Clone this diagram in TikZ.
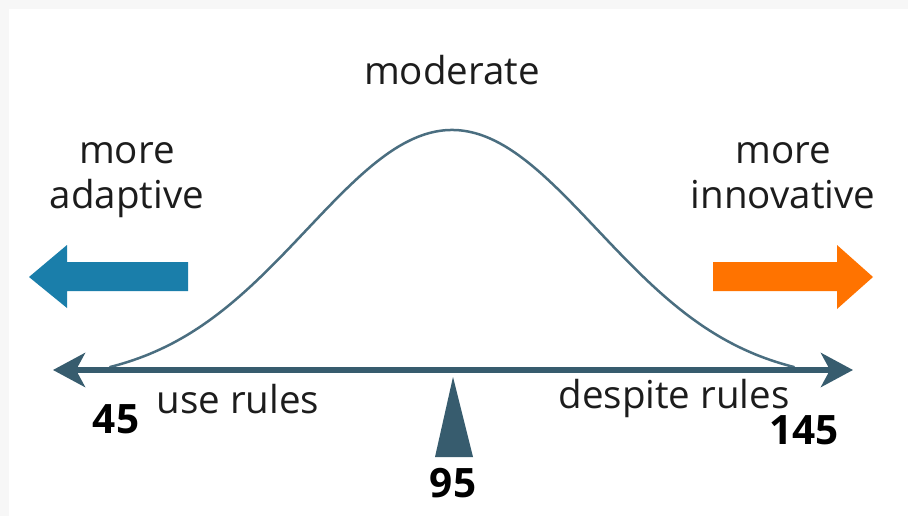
\documentclass[tikz,border=0pt]{standalone}
\usepackage{fontspec}
\setmainfont{Open Sans}
\usetikzlibrary{arrows.meta,positioning,calc}
\definecolor{AxisSlate}{RGB}{55,92,110}
\definecolor{CurveSlate}{RGB}{74,110,128}
\definecolor{AdaptBlue}{RGB}{26,126,170}
\definecolor{InnovOrange}{RGB}{255,115,0}
\definecolor{PageGrey}{RGB}{247,247,247}
\definecolor{InkGrey}{RGB}{28,28,28}

\begin{document}
\begin{tikzpicture}[
  x=1pt, y=-1pt,
  word/.style={font=\fontsize{38.5}{45}\selectfont, text=InkGrey, inner sep=0pt, align=center},
  num/.style={font=\fontsize{40.5}{45}\selectfont\bfseries, text=black, inner sep=0pt},
  axis/.style={{Stealth[length=32pt,width=34pt,inset=9pt]}-{Stealth[length=32pt,width=34pt,inset=9pt]},
    line width=6pt, draw=AxisSlate},
  bell/.style={line width=2.5pt, draw=CurveSlate, line cap=round},
  bigarrow/.style={draw=none}
]
\fill[PageGrey] (0,0) rectangle (908,516);
\fill[white] (9,9) rectangle (908,516);
\useasboundingbox (0,0) rectangle (908,516);

\coordinate (axL) at (53,370);
\coordinate (axR) at (853,370);
\coordinate (mid) at (453,370);

\draw[bell] plot[domain=110:794, samples=140, smooth]
  (\x, {367 - 237*(exp(-((\x-452)/100)^2/4.205)-0.062)/0.938});
\draw[axis] (axL) -- (axR);
\fill[AxisSlate] ($(mid)+(0,7)$) -- ($(mid)+(20,87)$) -- ($(mid)+(-18,87)$) -- cycle;

\fill[bigarrow, AdaptBlue] (29,277) -- (67,245) -- (67,262) -- (188,262)
  -- (188,291) -- (67,291) -- (67,308) -- cycle;
\fill[bigarrow, InnovOrange] (873,277) -- (837,245) -- (837,262) -- (713,262)
  -- (713,291) -- (837,291) -- (837,309) -- cycle;

\node[word, anchor=base] (moderate) at (452,85) {moderate};
\node[word, anchor=base] (adaptive) at (127,208) {more\\adaptive};
\node[word, anchor=base] (innovative) at (783,208) {more\\innovative};
\node[word, anchor=base] (userules) at (238,413) {use rules};
\node[word, anchor=base] (despite) at (674,408) {despite rules};
\node[num, anchor=base] (low) at (116,433) {45};
\node[num, anchor=base] (high) at (804,444) {145};
\node[num, anchor=base] (mean) at (453,497) {95};
\end{tikzpicture}
\end{document}
